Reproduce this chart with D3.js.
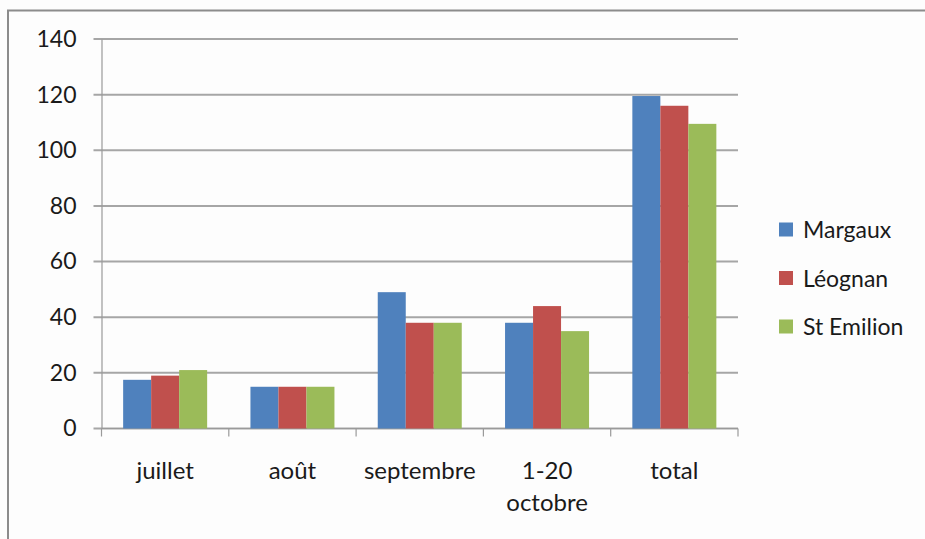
<!DOCTYPE html>
<html><head><meta charset="utf-8">
<script src="https://cdn.jsdelivr.net/npm/d3@7"></script>
<style>
html,body{margin:0;padding:0;background:#fff;}
svg text{font-family:Lato,"Open Sans",sans-serif;fill:#1a1a1a;}
</style></head>
<body>
<script>
const categories = [["juillet"], ["août"], ["septembre"], ["1-20", "octobre"], ["total"]];
const seriesNames = ["Margaux", "Léognan", "St Emilion"];
const margaux = [17.5, 15, 49, 38, 119.5];
const leognan = [19, 15, 38, 44, 116];
const stEmilion = [21, 15, 38, 35, 109.5];
const yTicks = [0, 20, 40, 60, 80, 100, 120, 140];
const colors = ["#4F81BD", "#C0504D", "#9BBB59"];

(function () {
const seriesValues = [margaux, leognan, stEmilion];
const W = 925, H = 539;
const svg = d3.select("body").append("svg").attr("width", W).attr("height", H);
svg.append("rect").attr("width", W).attr("height", H).attr("fill", "#fdfdfd");
// frame
svg.append("path").attr("d", `M8,${H} V10.5 H${W}`).attr("fill", "none").attr("stroke", "#8c8c8c").attr("stroke-width", 2);

const pl = 101.5, pr = 738, pt = 39, pb = 428.5;
const x = d3.scaleBand().domain(d3.range(categories.length)).range([pl, pr]).paddingInner(0).paddingOuter(0);
const groupW = 84;
const xs = d3.scaleBand().domain(d3.range(seriesNames.length)).range([0, groupW]);
const y = d3.scaleLinear().domain([0, 140]).range([pb, pt]);

// gridlines
svg.append("g").selectAll("line").data(yTicks).join("line")
  .attr("x1", pl - 8).attr("x2", pr)
  .attr("y1", d => y(d)).attr("y2", d => y(d))
  .attr("stroke", "#a6a6a6").attr("stroke-width", 2);

// y axis
const yAxis = svg.append("g").attr("transform", `translate(${pl},0)`)
  .call(d3.axisLeft(y).tickValues(yTicks).tickSize(0).tickPadding(25));
yAxis.select(".domain").attr("stroke", "#9a9a9a").attr("stroke-width", 1.2);
yAxis.selectAll("text").attr("font-size", 23).attr("font-family", "Lato").attr("fill", "#1a1a1a");

// x axis
const xAxis = svg.append("g").attr("transform", `translate(0,${pb})`);
xAxis.append("line").attr("x1", pl).attr("x2", pr).attr("stroke", "#9a9a9a").attr("stroke-width", 1.2);
const tickPos = d3.range(categories.length + 1).map(i => i < categories.length ? x(i) : pr);
xAxis.selectAll("line.tk").data(tickPos).join("line").attr("class", "tk")
  .attr("x1", d => d).attr("x2", d => d).attr("y1", 0).attr("y2", 8)
  .attr("stroke", "#9a9a9a").attr("stroke-width", 1.2);
const labels = xAxis.selectAll("text").data(categories).join("text")
  .attr("text-anchor", "middle").attr("font-size", 24)
  .attr("transform", (d, i) => `translate(${x(i) + x.bandwidth() / 2},0)`);
labels.selectAll("tspan").data(d => d).join("tspan")
  .attr("x", 0).attr("y", (d, j) => 50.5 + j * 32).text(d => d);

// bars
const groups = svg.append("g").selectAll("g").data(categories).join("g")
  .attr("transform", (d, i) => `translate(${x(i) + (x.bandwidth() - groupW) / 2},0)`);
groups.selectAll("rect").data((d, i) => seriesValues.map((s, k) => ({k, v: s[i]}))).join("rect")
  .attr("x", d => xs(d.k)).attr("width", xs.bandwidth())
  .attr("y", d => y(d.v)).attr("height", d => y(0) - y(d.v))
  .attr("fill", d => colors[d.k]);

// legend
const legend = svg.append("g").selectAll("g").data(seriesNames).join("g")
  .attr("transform", (d, i) => `translate(779,${230 + i * 48.5})`);
legend.append("rect").attr("x", 0).attr("y", -7.5).attr("width", 14).attr("height", 14)
  .attr("fill", (d, i) => colors[i]);
legend.append("text").attr("x", 24).attr("y", 8).attr("font-size", 23).text(d => d);
})();
</script>
</body></html>
